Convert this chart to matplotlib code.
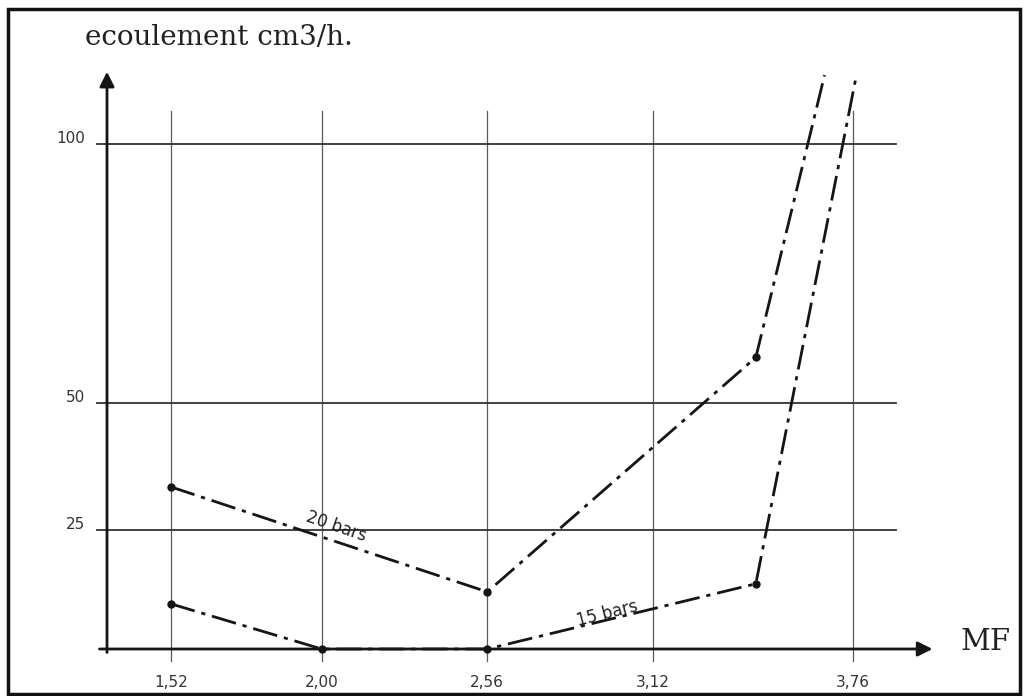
import numpy as np
import matplotlib.pyplot as plt
from matplotlib.patches import Rectangle
from matplotlib.transforms import ScaledTranslation

plt.rcParams['lines.scale_dashes'] = False

# ecoulement (cm3/h) en fonction du MF, pour deux pressions
mf_20 = [1.52, 2.56, 3.45, 3.67]
q_20 = [33.5, 12.0, 58.8, 113.3]
mf_15 = [1.52, 2.00, 2.56, 3.45, 3.77]
q_15 = [9.5, 0.0, 0.0, 13.7, 112.7]

x_ticks = [1.52, 2.00, 2.56, 3.12, 3.76]
x_labels = ['1,52', '2,00', '2,56', '3,12', '3,76']
y_ticks = [25, 50, 100]
y_labels = ['25', '50', '100']

# graduations faites a la main : espacement irregulier (en pixels)
x_grad_px = [170.7, 321.7, 487.3, 652.7, 852.7]
y_grad_val = [0, 25, 50, 100]
y_grad_px = [0, 119, 246, 505]


def piecewise(a, b):
    a = np.asarray(a, float)
    b = np.asarray(b, float)
    lo = (b[1] - b[0]) / (a[1] - a[0])
    hi = (b[-1] - b[-2]) / (a[-1] - a[-2])

    def f(v):
        v = np.asarray(v, float)
        out = np.interp(v, a, b)
        out = np.where(v < a[0], b[0] + (v - a[0]) * lo, out)
        out = np.where(v > a[-1], b[-1] + (v - a[-1]) * hi, out)
        return out
    return f


fx, fx_inv = piecewise(x_ticks, x_grad_px), piecewise(x_grad_px, x_ticks)
fy, fy_inv = piecewise(y_grad_val, y_grad_px), piecewise(y_grad_px, y_grad_val)

W, H = 1028, 696
fig = plt.figure(figsize=(W / 100, H / 100), dpi=100)
left, right, bottom, top = 107, 940, 649, 70
ax = fig.add_axes([left / W, (H - bottom) / H, (right - left) / W, (bottom - top) / H])
ax.set_xscale('function', functions=(fx, fx_inv))
ax.set_yscale('function', functions=(fy, fy_inv))
ax.set_xlim(float(fx_inv(left)), float(fx_inv(right)))
ax.set_ylim(0, float(fy_inv(bottom - top)))

for s in ax.spines.values():
    s.set_visible(False)

ink = '#151515'

# quadrillage
for x in x_ticks:
    ax.axvline(x, ymin=-0.02, ymax=0.93, color='#5a5a5a', lw=0.9, clip_on=False, zorder=1)
for y in y_ticks:
    ax.axhline(y, xmin=-0.012, xmax=0.947, color='#333333', lw=1.3, clip_on=False, zorder=1)

# axes avec fleches
arrow = dict(arrowstyle='-|>', color=ink, lw=2.0, mutation_scale=22, shrinkA=0, shrinkB=0)
ax.annotate('', xy=(0.991, 0), xytext=(-0.009, 0), xycoords='axes fraction',
            arrowprops=arrow, annotation_clip=False)
ax.annotate('', xy=(0, 0.997), xytext=(0, -0.006), xycoords='axes fraction',
            arrowprops=arrow, annotation_clip=False)

# courbes
dash = (18, 5, 3, 5)
ax.plot(mf_20, q_20, color=ink, lw=2.0, dashes=dash, marker='o', ms=5,
        markevery=list(range(len(mf_20) - 1)), clip_on=False, zorder=3)
ax.plot(mf_15, q_15, color=ink, lw=2.0, dashes=dash, marker='o', ms=5,
        markevery=list(range(len(mf_15) - 1)), clip_on=False, zorder=3)

ax.text(2.05, 25.6, '20 bars', rotation=-19, ha='center', va='center',
        rotation_mode='anchor', fontsize=12, color='#222222')
ax.text(2.965, 7.4, '15 bars', rotation=14, ha='center', va='center',
        rotation_mode='anchor', fontsize=12, color='#222222')

# graduations
ax.set_xticks(x_ticks, x_labels)
ax.set_yticks(y_ticks, y_labels)
ax.tick_params(axis='both', length=0, labelsize=11, labelcolor='#333333')
ax.tick_params(axis='x', pad=19)
ax.tick_params(axis='y', pad=16)
for lab in ax.get_yticklabels():
    lab.set_transform(lab.get_transform() + ScaledTranslation(0, 5 / 72, fig.dpi_scale_trans))
ax.minorticks_off()

fig.text(85 / W, 1 - 45 / H, 'ecoulement cm3/h.', family='DejaVu Serif',
         fontsize=20, va='baseline', color='#222222')
fig.text(961 / W, 1 - 650 / H, 'MF', family='DejaVu Serif',
         fontsize=21, va='baseline', color='#222222')

# cadre
fig.add_artist(Rectangle((8 / W, 2 / H), 1012 / W, 685 / H, transform=fig.transFigure,
                         fill=False, lw=2.5, edgecolor='#111111'))

fig.savefig('out.png', dpi=100)
